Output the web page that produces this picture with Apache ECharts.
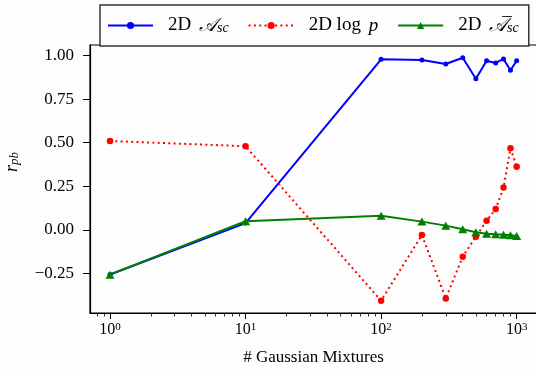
<!DOCTYPE html>
<html><head><meta charset="utf-8">
<script src="https://cdn.jsdelivr.net/npm/echarts@6/dist/echarts.min.js"></script>
<style>html,body{margin:0;padding:0;background:#fdfdfd}#c{width:536px;height:370px}</style>
</head><body><div id="c"></div>
<script>
const mixtures = [1, 10, 100, 200, 300, 400, 500, 600, 700, 800, 900, 1000];
const ascValues = [-0.255, 0.04, 0.978, 0.974, 0.951, 0.987, 0.867, 0.970, 0.957, 0.980, 0.915, 0.970];
const logpValues = [0.51, 0.48, -0.405, -0.029, -0.392, -0.153, -0.038, 0.053, 0.12, 0.243, 0.468, 0.363];
const ascBarValues = [-0.256, 0.05, 0.081, 0.048, 0.025, 0.004, -0.013, -0.021, -0.025, -0.027, -0.03, -0.034];
const xMajorTicks = [1, 10, 100, 1000];
const xMinorTicks = [0.8, 0.9, 2, 3, 4, 5, 6, 7, 8, 9, 20, 30, 40, 50, 60, 70, 80, 90, 200, 300, 400, 500, 600, 700, 800, 900];
const yTicks = [-0.25, 0, 0.25, 0.5, 0.75, 1.0];
const seriesNames = ['2D 𝒜sc', '2D log p', '2D 𝒜̄sc'];
const legendLabels = ['2D {s|𝒜}{sub|sc}', '2D log {i|p}', '2D {s|𝒜}{m|¯}{sub|sc}'];
const xAxisTitle = '# Gaussian Mixtures';

const SERIF = 'Liberation Serif';
const chart = echarts.init(document.getElementById('c'), null, {renderer: 'canvas'});
const pairs = vals => mixtures.map((x, i) => [x, vals[i]]);

chart.setOption({
  backgroundColor: '#fdfdfd',
  animation: false,
  grid: {left: 90, top: 45, width: 447, height: 268, containLabel: false, outerBoundsMode: 'none',
         show: true, borderColor: '#000', borderWidth: 1.2, backgroundColor: 'transparent'},
  legend: {
    left: 100, top: 5,
    padding: [11, 10, 11, 7],
    itemWidth: 45, itemHeight: 9, itemGap: 19,
    borderColor: '#333', borderWidth: 1.5, borderRadius: 0,
    backgroundColor: '#fdfdfd',
    data: seriesNames,
    formatter: name => legendLabels[seriesNames.indexOf(name)],
    textStyle: {
      fontFamily: SERIF, fontSize: 19, color: '#000', padding: [0, 0, 0, 10],
      rich: {
        s: {fontFamily: SERIF, fontSize: 19, fontStyle: 'italic', color: '#000', padding: [0, 0, 0, 3]},
        m: {fontFamily: SERIF, fontSize: 19, color: '#000', width: 0, align: 'right'},
        sub: {fontFamily: SERIF, fontSize: 14, fontStyle: 'italic', color: '#000', verticalAlign: 'bottom'},
        i: {fontFamily: SERIF, fontSize: 19, fontStyle: 'italic', color: '#000', padding: [0, 0, 0, 3]}
      }
    }
  },
  xAxis: [{
    type: 'log', logBase: 10, min: 0.7118, max: 1412.5,
    axisLine: {show: true, onZero: false, lineStyle: {color: '#000', width: 1.2}},
    axisTick: {show: true, customValues: xMajorTicks, length: 6, lineStyle: {color: '#000', width: 1}},
    axisLabel: {
      customValues: xMajorTicks, margin: 9, color: '#000',
      formatter: v => '{b|10}{e|' + Math.round(Math.log10(v)) + '}',
      rich: {
        b: {fontFamily: SERIF, fontSize: 16, color: '#000'},
        e: {fontFamily: SERIF, fontSize: 11, color: '#000', verticalAlign: 'top'}
      }
    },
    splitLine: {show: false},
    name: xAxisTitle, nameLocation: 'middle', nameGap: 36,
    nameTextStyle: {fontFamily: SERIF, fontSize: 17, color: '#000'}
  }, {
    type: 'log', logBase: 10, min: 0.7118, max: 1412.5, position: 'bottom', gridIndex: 0,
    axisLine: {show: false, onZero: false},
    axisTick: {show: true, customValues: xMinorTicks, length: 3.5, lineStyle: {color: '#000', width: 0.8}},
    axisLabel: {show: false},
    splitLine: {show: false}
  }],
  yAxis: {
    type: 'value', min: -0.4756, max: 1.06,
    axisLine: {show: true, onZero: false, lineStyle: {color: '#000', width: 1.2}},
    axisTick: {show: true, customValues: yTicks, length: 7, lineStyle: {color: '#000', width: 1}},
    axisLabel: {
      customValues: yTicks, margin: 16, color: '#000', fontFamily: SERIF, fontSize: 17,
      formatter: v => v.toFixed(2).replace('-', '\u2212')
    },
    splitLine: {show: false},
    name: '{r|r}{sub|pb}', nameLocation: 'middle', nameGap: 69, nameRotate: 90,
    nameTextStyle: {
      padding: [0, 0, 0, 34],
      rich: {
        r: {fontFamily: SERIF, fontSize: 18, fontStyle: 'italic', color: '#000'},
        sub: {fontFamily: SERIF, fontSize: 13, fontStyle: 'italic', color: '#000', verticalAlign: 'bottom'}
      }
    }
  },
  series: [{
    name: seriesNames[0], type: 'line', data: pairs(ascValues),
    symbol: 'circle', symbolSize: 5,
    lineStyle: {color: '#0000ff', width: 2}, itemStyle: {color: '#0000ff'}
  }, {
    name: seriesNames[1], type: 'line', data: pairs(logpValues),
    symbol: 'circle', symbolSize: 6.5,
    lineStyle: {color: '#ff0000', width: 2, type: [2, 3.3]}, itemStyle: {color: '#ff0000'}
  }, {
    name: seriesNames[2], type: 'line', data: pairs(ascBarValues),
    symbol: 'triangle', symbolSize: [9, 8],
    lineStyle: {color: '#008000', width: 2}, itemStyle: {color: '#008000'}
  }]
});
</script></body></html>
